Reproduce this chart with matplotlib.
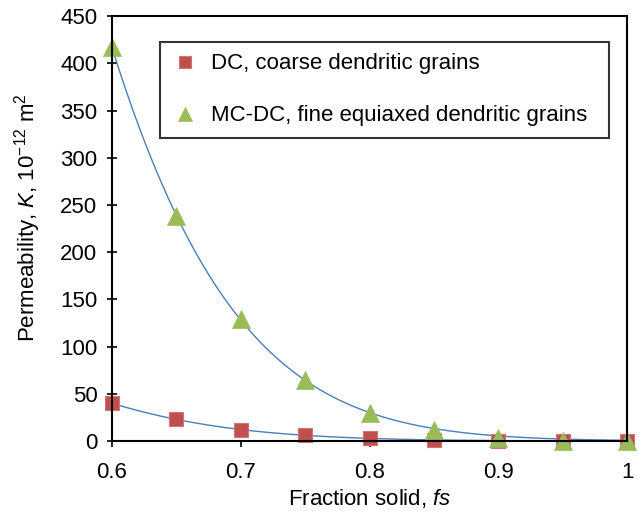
import numpy as np
import matplotlib
matplotlib.use('Agg')
import matplotlib.pyplot as plt

plt.rcParams['font.family'] = ['Liberation Sans', 'DejaVu Sans']
plt.rcParams['mathtext.fontset'] = 'custom'
plt.rcParams['mathtext.rm'] = 'Liberation Sans'
plt.rcParams['mathtext.it'] = 'Liberation Sans:italic'

fs = [0.6, 0.65, 0.7, 0.75, 0.8, 0.85, 0.9, 0.95, 1.0]
k_dc = [40, 23, 12, 6, 3, 1, 0.5, 0.2, 0.1]
k_mcdc = [417, 238, 129, 65, 30, 12, 3, 0.5, 0.1]

fig = plt.figure(figsize=(6.39, 5.18), dpi=100)
ax = fig.add_axes([0.1753, 0.1486, 0.806, 0.820])

# smooth trend lines fitted on the data (log space, weighted by value)
x_fit = np.linspace(0.6, 1.0, 300)
for k in (k_dc, k_mcdc):
    kk = np.array(k[:7])
    p = np.polyfit(fs[:7], np.log(kk), 2, w=kk)
    ax.plot(x_fit, np.exp(np.polyval(p, x_fit)), color='#4A7EBB', lw=1.0, zorder=2)

ax.plot(fs, k_dc, 's', color='#C0504D', ms=10, mec='#D07573', mew=0.8,
        label='DC, coarse dendritic grains', zorder=3, clip_on=False)
ax.plot(fs, k_mcdc, '^', color='#9BBB59', ms=13, mec='#9BBB59', mew=0.5,
        label='MC-DC, fine equiaxed dendritic grains', zorder=4, clip_on=False)

ax.set_xlim(0.6, 1.0)
ax.set_ylim(0, 450)
ax.set_xticks([0.6, 0.7, 0.8, 0.9, 1.0])
ax.set_xticklabels(['0.6', '0.7', '0.8', '0.9', '1'])
ax.set_yticks(range(0, 451, 50))
ax.tick_params(axis='x', labelsize=16, direction='out', length=4, width=1.2, pad=11)
ax.tick_params(axis='y', labelsize=16, direction='inout', length=7, width=1.2, pad=7)
for s in ax.spines.values():
    s.set_linewidth(1.5)
    s.set_zorder(5)

ax.set_xlabel('Fraction solid, $\\it{fs}$', fontsize=16, labelpad=3)
ax.set_ylabel('Permeability, $\\it{K}$, 10$^{-12}$ m$^2$', fontsize=16)
ax.yaxis.set_label_coords(-0.134, 0.527)

leg = ax.legend(loc='upper left', bbox_to_anchor=(0.093, 0.0, 0.872, 0.939),
                mode='expand', borderaxespad=0, fontsize=16, frameon=True,
                fancybox=False, edgecolor='black', borderpad=0.5,
                labelspacing=1.4, handletextpad=0.5, handlelength=1.3,
                markerscale=0.8)
leg.get_frame().set_linewidth(1.5)

fig.savefig('out.png', dpi=100)
